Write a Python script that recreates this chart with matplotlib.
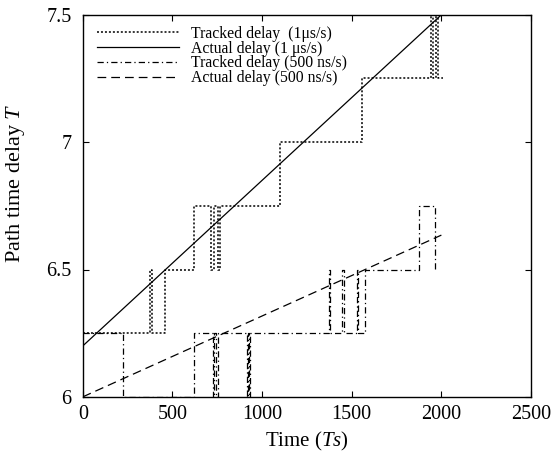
import matplotlib
matplotlib.use("Agg")
import matplotlib.pyplot as plt

plt.rcParams['font.family'] = ['Liberation Serif', 'DejaVu Serif']
plt.rcParams['mathtext.fontset'] = 'custom'
plt.rcParams['mathtext.rm'] = 'Liberation Serif'
plt.rcParams['mathtext.it'] = 'Liberation Serif:italic'

# tracked delay, 1 us/s (step values, post)
t_track1 = [0, 376, 385, 461, 618, 713, 730, 753, 764, 1101, 1556, 1944, 1955, 1972, 1983, 2008]
v_track1 = [6.25, 6.5, 6.25, 6.5, 6.75, 6.5, 6.75, 6.5, 6.75, 7.0, 7.25, 7.5, 7.25, 7.5, 7.25, 7.25]

# actual delay, 1 us/s
t_act1 = [0, 2000]
v_act1 = [6.2, 7.5]

# tracked delay, 500 ns/s
t_track2 = [0, 225, 618, 725, 730, 745, 752, 918, 923, 928, 933, 1371, 1376, 1444, 1455,
            1528, 1535, 1573, 1876, 1966, 1975]
v_track2 = [6.25, 6.0, 6.25, 6.0, 6.25, 6.0, 6.25, 6.0, 6.25, 6.0, 6.25, 6.5, 6.25, 6.5, 6.25,
            6.5, 6.25, 6.5, 6.75, 6.5, 6.5]

# actual delay, 500 ns/s
t_act2 = [0, 2000]
v_act2 = [6.0, 6.635]

labels = ["Tracked delay  (1\u03bcs/s)", "Actual delay (1 \u03bcs/s)",
          "Tracked delay (500 ns/s)", "Actual delay (500 ns/s)"]

fig = plt.figure(figsize=(5.52, 4.62), dpi=100)
ax = fig.add_axes([0.150, 0.141, 0.812, 0.827])

ax.step(t_track1, v_track1, where='post', color='black', lw=1.1, ls=(0, (1.3, 1.3)), label=labels[0])
ax.plot(t_act1, v_act1, color='black', lw=0.9, ls='-', label=labels[1])
ax.step(t_track2, v_track2, where='post', color='black', lw=0.9, ls=(0, (5, 2.5, 1, 2.5)), label=labels[2])
ax.plot(t_act2, v_act2, color='black', lw=0.9, ls=(0, (7, 4)), label=labels[3])

ax.set_xlim(0, 2500)
ax.set_ylim(6, 7.5)
ax.set_xticks([0, 500, 1000, 1500, 2000, 2500])
ax.set_yticks([6, 6.5, 7, 7.5])
ax.set_yticklabels(["6", "6.5", "7", "7.5"])
ax.tick_params(direction='in', top=True, right=True, length=4, width=0.8, labelsize=14.5, pad=6)
ax.tick_params(axis='y', pad=8)
for s in ax.spines.values():
    s.set_linewidth(1.0)

ax.set_xlabel("Time ($Ts$)", fontsize=15, labelpad=4)
ax.set_ylabel("Path time delay $T$", fontsize=16)
ax.yaxis.set_label_coords(-0.125, 0.56)

ax.legend(loc='upper left', bbox_to_anchor=(0.007, 1.0), frameon=False, fontsize=11.3,
          handlelength=5.2, handletextpad=0.8, labelspacing=-0.08, borderaxespad=0.4,
          borderpad=0.3)

fig.savefig("out.png", dpi=100)
